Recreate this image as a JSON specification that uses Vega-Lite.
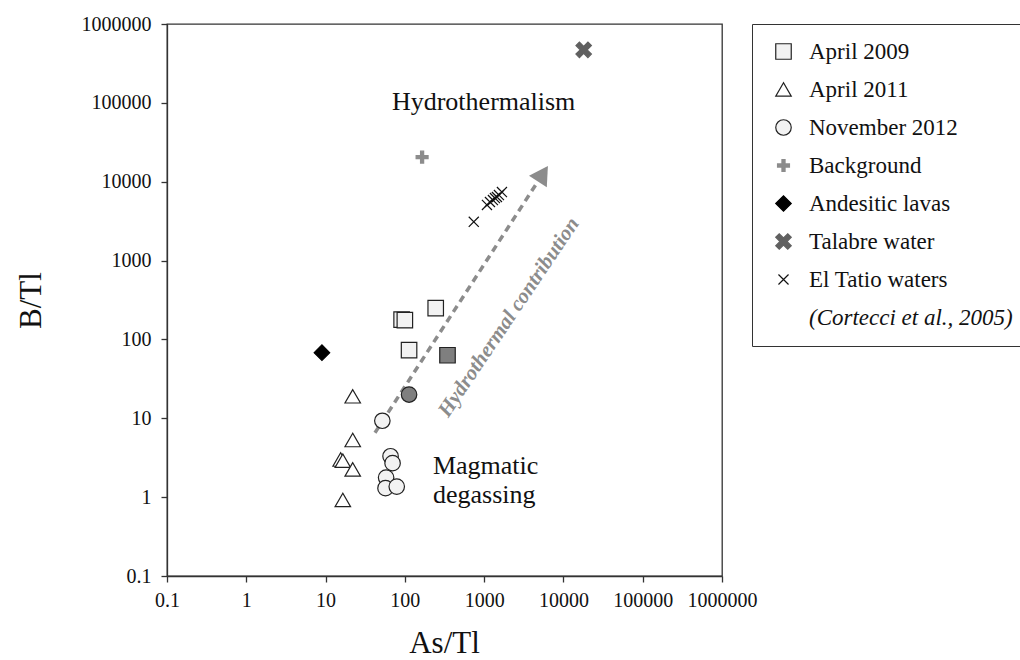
{
  "$schema": "https://vega.github.io/schema/vega-lite/v6.json",
  "width": 555,
  "height": 552,
  "autosize": "none",
  "padding": {"left": 167, "top": 24, "right": 298, "bottom": 84},
  "background": "white",
  "config": {
    "font": "Liberation Serif",
    "view": {"stroke": "#333333", "strokeWidth": 1.3},
    "axis": {
      "grid": false,
      "domainColor": "#333333",
      "domainWidth": 1.3,
      "tickColor": "#333333",
      "tickWidth": 1.3,
      "tickSize": 6,
      "labelFont": "Liberation Serif",
      "labelFontSize": 20,
      "labelColor": "#111111",
      "titleFont": "Liberation Serif",
      "titleFontSize": 31,
      "titleFontWeight": "normal",
      "titleColor": "#111111"
    },
    "legend": {
      "title": null,
      "orient": "none",
      "legendX": 585,
      "legendY": 0,
      "strokeColor": "#333333",
      "fillColor": "white",
      "padding": 16,
      "labelFont": "Liberation Serif",
      "labelFontSize": 23,
      "labelColor": "#111111",
      "labelLimit": 400,
      "symbolSize": 240,
      "symbolStrokeWidth": 1.2,
      "rowPadding": 14,
      "symbolOffset": 4,
      "labelOffset": 14
    }
  },
  "datasets": {
    "pts": [
      {"series": "April 2009", "asTl": 91, "bTl": 178, "dark": false},
      {"series": "April 2009", "asTl": 100, "bTl": 176, "dark": false},
      {"series": "April 2009", "asTl": 245, "bTl": 250, "dark": false},
      {"series": "April 2009", "asTl": 113, "bTl": 73, "dark": false},
      {"series": "April 2009", "asTl": 345, "bTl": 63, "dark": true},
      {"series": "April 2011", "asTl": 22, "bTl": 19, "dark": false},
      {"series": "April 2011", "asTl": 22, "bTl": 5.3, "dark": false},
      {"series": "April 2011", "asTl": 15.5, "bTl": 3.0, "dark": false},
      {"series": "April 2011", "asTl": 16.5, "bTl": 2.9, "dark": false},
      {"series": "April 2011", "asTl": 22, "bTl": 2.25, "dark": false},
      {"series": "April 2011", "asTl": 16.5, "bTl": 0.92, "dark": false},
      {"series": "November 2012", "asTl": 113, "bTl": 20, "dark": true},
      {"series": "November 2012", "asTl": 52, "bTl": 9.3, "dark": false},
      {"series": "November 2012", "asTl": 66, "bTl": 3.3, "dark": false},
      {"series": "November 2012", "asTl": 70, "bTl": 2.7, "dark": false},
      {"series": "November 2012", "asTl": 58, "bTl": 1.77, "dark": false},
      {"series": "November 2012", "asTl": 57, "bTl": 1.3, "dark": false},
      {"series": "November 2012", "asTl": 79, "bTl": 1.36, "dark": false},
      {"series": "Background", "asTl": 165, "bTl": 20500, "dark": false},
      {"series": "Andesitic lavas", "asTl": 9, "bTl": 68, "dark": false},
      {"series": "Talabre water", "asTl": 18000, "bTl": 470000, "dark": false},
      {"series": "El Tatio waters", "asTl": 740, "bTl": 3100, "dark": false},
      {"series": "El Tatio waters", "asTl": 1085, "bTl": 5070, "dark": false},
      {"series": "El Tatio waters", "asTl": 1184, "bTl": 5530, "dark": false},
      {"series": "El Tatio waters", "asTl": 1291, "bTl": 5860, "dark": false},
      {"series": "El Tatio waters", "asTl": 1368, "bTl": 6210, "dark": false},
      {"series": "El Tatio waters", "asTl": 1450, "bTl": 6400, "dark": false},
      {"series": "El Tatio waters", "asTl": 1537, "bTl": 6780, "dark": false},
      {"series": "El Tatio waters", "asTl": 1677, "bTl": 7400, "dark": false}
    ],
    "arrow": [
      {"asTl": 42, "bTl": 6.56},
      {"asTl": 4630, "bTl": 9640}
    ],
    "arrowhead": [
      {"asTl": 5510, "bTl": 12620}
    ],
    "notes": [
      {"text": "Hydrothermalism", "asTl": 68.7, "bTl": 81100},
      {"text": "Magmatic", "asTl": 226, "bTl": 1.96},
      {"text": "degassing", "asTl": 226, "bTl": 0.843}
    ],
    "arrownote": [
      {"text": "Hydrothermal contribution", "asTl": 2055, "bTl": 190}
    ]
  },
  "encoding": {
    "x": {
      "field": "asTl",
      "type": "quantitative",
      "scale": {"type": "log", "domain": [0.1, 1000000], "nice": false},
      "axis": {
        "values": [0.1, 1, 10, 100, 1000, 10000, 100000, 1000000],
        "labelExpr": "datum.value < 1 ? '0.1' : format(datum.value, 'd')",
        "labelOverlap": false,
        "labelFlush": false,
        "labelPadding": 8,
        "title": "As/Tl",
        "titleX": 277,
        "titleY": 76,
        "titleAlign": "center",
        "titleBaseline": "alphabetic"
      }
    },
    "y": {
      "field": "bTl",
      "type": "quantitative",
      "scale": {"type": "log", "domain": [0.1, 1000000], "nice": false},
      "axis": {
        "values": [0.1, 1, 10, 100, 1000, 10000, 100000, 1000000],
        "labelExpr": "datum.value < 1 ? '0.1' : format(datum.value, 'd')",
        "labelOverlap": false,
        "labelFlush": false,
        "labelPadding": 10,
        "title": "B/Tl",
        "titleX": -127,
        "titleY": 276,
        "titleAngle": -90,
        "titleAlign": "center",
        "titleBaseline": "alphabetic"
      }
    }
  },
  "layer": [
    {
      "data": {"name": "arrow"},
      "mark": {"type": "line", "color": "#8c8c8c", "strokeWidth": 3.5, "strokeDash": [7, 5]},
      "encoding": {}
    },
    {
      "data": {"name": "arrowhead"},
      "mark": {"type": "point", "shape": "triangle-up", "filled": true, "color": "#8c8c8c", "opacity": 1, "size": 450, "angle": 33},
      "encoding": {}
    },
    {
      "data": {"name": "pts"},
      "mark": {"type": "point", "filled": true, "opacity": 1, "size": 240, "strokeWidth": 1.2},
      "encoding": {
        "shape": {
          "field": "series",
          "type": "nominal",
          "scale": {
            "domain": ["April 2009", "April 2011", "November 2012", "Background", "Andesitic lavas", "Talabre water", "El Tatio waters", "(Cortecci et al., 2005)"],
            "range": ["square", "triangle-up", "circle", "M-0.2,-0.77H0.2V-0.2H0.77V0.2H0.2V0.77H-0.2V0.2H-0.77V-0.2H-0.2Z", "diamond", "M-1,-0.55L-0.55,-1L0,-0.45L0.55,-1L1,-0.55L0.45,0L1,0.55L0.55,1L0,0.45L-0.55,1L-1,0.55L-0.45,0Z", "M-0.65,-0.65L0.65,0.65M-0.65,0.65L0.65,-0.65", "M0,0"]
          },
          "legend": {
            "title": null,
            "orient": "none",
            "legendX": 585,
            "legendY": 0,
            "labelFontStyle": {"expr": "datum.label == '(Cortecci et al., 2005)' ? 'italic' : 'normal'"}
          }
        },
        "fill": {
          "field": "series",
          "type": "nominal",
          "condition": {"test": "datum.dark", "value": "#7f7f7f"},
          "scale": {
            "domain": ["April 2009", "April 2011", "November 2012", "Background", "Andesitic lavas", "Talabre water", "El Tatio waters", "(Cortecci et al., 2005)"],
            "range": ["#f2f2f2", "#ffffff", "#f2f2f2", "#8c8c8c", "#000000", "#606060", "transparent", "transparent"]
          },
          "legend": {
            "title": null,
            "orient": "none",
            "legendX": 585,
            "legendY": 0,
            "labelFontStyle": {"expr": "datum.label == '(Cortecci et al., 2005)' ? 'italic' : 'normal'"}
          }
        },
        "stroke": {
          "field": "series",
          "type": "nominal",
          "scale": {
            "domain": ["April 2009", "April 2011", "November 2012", "Background", "Andesitic lavas", "Talabre water", "El Tatio waters", "(Cortecci et al., 2005)"],
            "range": ["#222222", "#222222", "#222222", "#8c8c8c", "#000000", "#606060", "#111111", "transparent"]
          },
          "legend": {
            "title": null,
            "orient": "none",
            "legendX": 585,
            "legendY": 0,
            "labelFontStyle": {"expr": "datum.label == '(Cortecci et al., 2005)' ? 'italic' : 'normal'"}
          }
        }
      }
    },
    {
      "data": {"name": "notes"},
      "mark": {"type": "text", "font": "Liberation Serif", "fontSize": 26, "color": "#111111", "align": "left", "baseline": "alphabetic"},
      "encoding": {"text": {"field": "text"}}
    },
    {
      "data": {"name": "arrownote"},
      "mark": {"type": "text", "font": "Liberation Serif", "fontSize": 21, "fontWeight": "bold", "fontStyle": "italic", "color": "#8c8c8c", "align": "center", "baseline": "middle", "angle": -56},
      "encoding": {"text": {"field": "text"}}
    }
  ]
}
